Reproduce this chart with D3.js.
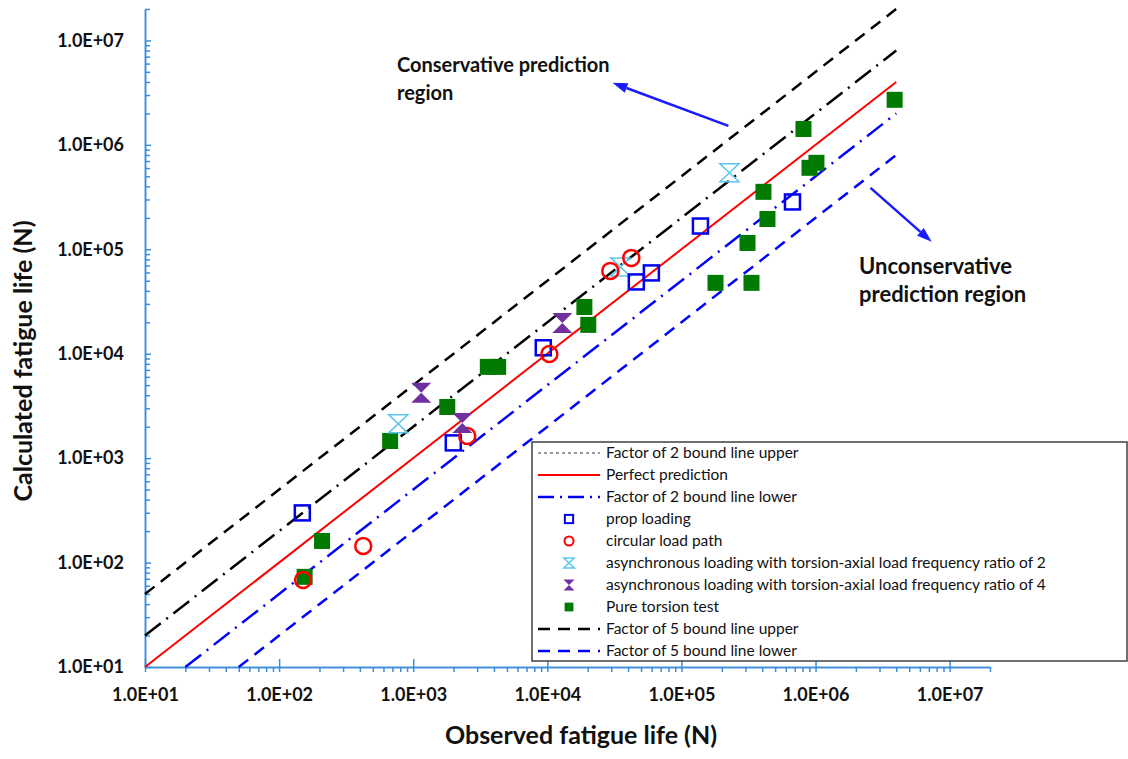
<!DOCTYPE html>
<html>
<head>
<meta charset="utf-8">
<script src="https://cdn.jsdelivr.net/npm/d3@7/dist/d3.min.js"></script>
<style>
  html, body { margin: 0; padding: 0; background: #fff; }
  svg { display: block; font-family: Lato, "Open Sans", sans-serif; }
</style>
</head>
<body>
<svg id="chart" width="1128" height="759"></svg>
<script>
// ---- data ----------------------------------------------------------------
// Pure torsion test [observed, calculated]
const pureTorsion = [
  [155, 73], [209, 161], [673, 1460], [1795, 3090], [3600, 7480], [4300, 7480],
  [18900, 28000], [20200, 18900], [179500, 47700], [333000, 47700],
  [311000, 115000], [438000, 195000], [409000, 355000], [813000, 1420000],
  [902000, 603000], [1016000, 673000], [3890000, 2700000]
];
// prop loading
const propLoading = [
  [149, 299], [1990, 1400], [9330, 11400], [46100, 48700], [59700, 59400],
  [138600, 167000], [673000, 284000]
];
// circular load path
const circularPath = [
  [151, 68], [424, 144], [2530, 1630], [10360, 9950], [29500, 62100], [42300, 82700]
];
// asynchronous loading, frequency ratio 2
const asyncRatio2 = [[773, 2130], [35100, 67800], [228000, 540000]];
// asynchronous loading, frequency ratio 4
const asyncRatio4 = [[1148, 4220], [2323, 2170], [12950, 19700]];

// bound lines: calculated = factor * observed, drawn up to observed = lineEnd
const boundFactors = [5, 2, 1, 0.5, 0.2];
const lineEnd = 4e6;

const majorTicks = [1e1, 1e2, 1e3, 1e4, 1e5, 1e6, 1e7];
const majorTickLabels = ["1.0E+01", "1.0E+02", "1.0E+03", "1.0E+04", "1.0E+05", "1.0E+06", "1.0E+07"];

const legendLabels = [
  "Factor of 2 bound line upper",
  "Perfect prediction",
  "Factor of 2 bound line lower",
  "prop loading",
  "circular load path",
  "asynchronous loading with torsion-axial load frequency ratio of 2",
  "asynchronous loading with torsion-axial load frequency ratio of 4",
  "Pure torsion test",
  "Factor of 5 bound line upper",
  "Factor of 5 bound line lower"
];

// ---- setup ---------------------------------------------------------------
const svg = d3.select("#chart");
const axisColor = "#3a8ddb";
const domainMin = 10, domainMax = 2e7;

const x = d3.scaleLog().domain([domainMin, domainMax]).range([145, 990]);
const y = d3.scaleLog().domain([domainMin, domainMax]).range([667, 9]);

// minor ticks 2..9 in each decade, plus the axis end
const minorTicks = [];
for (let d = 1; d < 7; d++) for (let m = 2; m <= 9; m++) minorTicks.push(m * Math.pow(10, d));
minorTicks.push(2e7);

const fmt = v => majorTickLabels[majorTicks.indexOf(v)];

// ---- axes ----------------------------------------------------------------
const xAxisG = svg.append("g").attr("transform", `translate(0,${y(domainMin)})`);
xAxisG.append("g").call(d3.axisBottom(x).tickValues(minorTicks.concat(majorTicks)).tickSize(5).tickSizeOuter(0).tickFormat(""));
xAxisG.append("g").call(d3.axisBottom(x).tickValues(majorTicks).tickSize(-8).tickSizeOuter(0).tickPadding(21).tickFormat(fmt));

const yAxisG = svg.append("g").attr("transform", `translate(${x(domainMin)},0)`);
yAxisG.append("g").call(d3.axisLeft(y).tickValues(minorTicks).tickSize(-5).tickSizeOuter(0).tickFormat(""));
yAxisG.append("g").call(d3.axisLeft(y).tickValues(majorTicks).tickSize(-6).tickSizeOuter(0).tickPadding(21).tickFormat(fmt));

svg.selectAll(".domain, .tick line").attr("stroke", axisColor).attr("stroke-width", 1.5);
svg.selectAll(".tick text")
  .attr("fill", "#111").attr("font-family", "Lato, sans-serif")
  .attr("font-size", 18).attr("font-weight", "bold");

// axis titles
svg.append("text")
  .attr("x", 581).attr("y", 744).attr("text-anchor", "middle")
  .attr("font-size", 25).attr("font-weight", "bold").attr("fill", "#111")
  .text("Observed fatigue life (N)");
svg.append("text")
  .attr("transform", "translate(32,361) rotate(-90)").attr("text-anchor", "middle")
  .attr("font-size", 25).attr("font-weight", "bold").attr("fill", "#111")
  .text("Calculated fatigue life (N)");

// ---- bound lines -----------------------------------------------------------
const lineStyles = {
  5:   { color: "#000", width: 2.5, dash: "12,8" },
  2:   { color: "#000", width: 2.5, dash: "20,7,2,7" },
  1:   { color: "#ff0000", width: 2, dash: null },
  0.5: { color: "#0000ff", width: 2.5, dash: "20,7,2,7" },
  0.2: { color: "#0000ff", width: 2.5, dash: "12,8" }
};
const lineGen = d3.line().x(d => x(d[0])).y(d => y(d[1]));
boundFactors.forEach(f => {
  const start = Math.max(domainMin, domainMin / f);
  const pts = [[start, start * f], [lineEnd, lineEnd * f]];
  const s = lineStyles[f];
  svg.append("path").datum(pts)
    .attr("d", lineGen).attr("fill", "none")
    .attr("stroke", s.color).attr("stroke-width", s.width)
    .attr("stroke-dasharray", s.dash);
});

// ---- markers -------------------------------------------------------------
const hourglass = (w, h) => `M${-w},${-h}L${w},${-h}L${-w},${h}L${w},${h}Z`;
const colors = { prop: "#0000ee", circ: "#ff0000", a2: "#5cc6ee", a4: "#7030a0", pure: "#007a00" };

function drawSeries(g, data, kind, scale) {
  const sel = g.selectAll(null).data(data).enter();
  const px = d => x(d[0]), py = d => y(d[1]);
  if (kind === "pure") {
    const s = 16 * scale;
    sel.append("rect").attr("x", d => px(d) - s / 2).attr("y", d => py(d) - s / 2)
      .attr("width", s).attr("height", s).attr("fill", colors.pure);
  } else if (kind === "prop") {
    const s = 15 * scale;
    sel.append("rect").attr("x", d => px(d) - s / 2).attr("y", d => py(d) - s / 2)
      .attr("width", s).attr("height", s).attr("fill", "none")
      .attr("stroke", colors.prop).attr("stroke-width", 2.5);
  } else if (kind === "circ") {
    sel.append("circle").attr("cx", px).attr("cy", py).attr("r", 8 * scale)
      .attr("fill", "none").attr("stroke", colors.circ).attr("stroke-width", 2.5);
  } else if (kind === "a2") {
    sel.append("path").attr("transform", d => `translate(${px(d)},${py(d)})`)
      .attr("d", hourglass(9.5 * scale, 9 * scale)).attr("fill", "none")
      .attr("stroke", colors.a2).attr("stroke-width", 1.5);
  } else if (kind === "a4") {
    sel.append("path").attr("transform", d => `translate(${px(d)},${py(d)})`)
      .attr("d", hourglass(10 * scale, 10 * scale)).attr("fill", colors.a4);
  }
}
const marks = svg.append("g");
drawSeries(marks.append("g"), pureTorsion, "pure", 1);
drawSeries(marks.append("g"), asyncRatio2, "a2", 1);
drawSeries(marks.append("g"), propLoading, "prop", 1);
drawSeries(marks.append("g"), circularPath, "circ", 1);
drawSeries(marks.append("g"), asyncRatio4, "a4", 1);

// ---- annotations ---------------------------------------------------------
const arrowColor = "#1a1aff";
function arrow(from, to) {
  const x1 = x(from[0]), y1 = y(from[1]), x2 = x(to[0]), y2 = y(to[1]);
  const ang = Math.atan2(y2 - y1, x2 - x1);
  const len = 15, half = 5;
  const bx = x2 - len * Math.cos(ang), by = y2 - len * Math.sin(ang);
  svg.append("line").attr("x1", x1).attr("y1", y1).attr("x2", bx).attr("y2", by)
    .attr("stroke", arrowColor).attr("stroke-width", 2.5);
  const p = [
    [x2, y2],
    [bx + half * Math.sin(ang), by - half * Math.cos(ang)],
    [bx - half * Math.sin(ang), by + half * Math.cos(ang)]
  ];
  svg.append("path").attr("d", "M" + p.join("L") + "Z").attr("fill", arrowColor);
}
arrow([224000, 1.52e6], [30600, 3.93e6]);
arrow([2.57e6, 387000], [7.35e6, 118000]);

const note = svg.append("g").attr("font-weight", "bold").attr("fill", "#111");
note.append("text").attr("x", 397).attr("y", 72).attr("font-size", 20).text("Conservative prediction");
note.append("text").attr("x", 397).attr("y", 100).attr("font-size", 20).text("region");
note.append("text").attr("x", 859).attr("y", 274).attr("font-size", 22).text("Unconservative");
note.append("text").attr("x", 859).attr("y", 302).attr("font-size", 22).text("prediction region");

// ---- legend --------------------------------------------------------------
const lg = svg.append("g");
lg.append("rect").attr("x", 532).attr("y", 442).attr("width", 595).attr("height", 219)
  .attr("fill", "#fff").attr("stroke", "#404040").attr("stroke-width", 1.5);

const legendKinds = ["l2u", "l1", "l2l", "prop", "circ", "a2", "a4", "pure", "l5u", "l5l"];
const legendLineStyles = {
  l2u: { color: "#333", width: 1, dash: "3,3" },
  l1:  { color: "#ff0000", width: 2, dash: null },
  l2l: { color: "#0000ff", width: 2.5, dash: "16,6,2,6" },
  l5u: { color: "#000", width: 2.5, dash: "12,8" },
  l5l: { color: "#0000ff", width: 2.5, dash: "12,8" }
};
const rowY = i => 453 + i * 22;
legendKinds.forEach((k, i) => {
  const cy = rowY(i);
  const ls = legendLineStyles[k];
  if (ls) {
    lg.append("line").attr("x1", 538).attr("x2", 600).attr("y1", cy).attr("y2", cy)
      .attr("stroke", ls.color).attr("stroke-width", ls.width).attr("stroke-dasharray", ls.dash);
  } else {
    const g = lg.append("g");
    const fake = [[x.invert(569), y.invert(cy)]];
    drawSeries(g, fake, k, 0.55);
    if (k === "circ") g.selectAll("circle").attr("r", 4.5).attr("stroke-width", 2);
    if (k === "prop") g.selectAll("rect").attr("stroke-width", 2);
  }
  lg.append("text").attr("x", 606).attr("y", cy).attr("dy", "0.35em")
    .attr("font-size", 15.5).attr("fill", "#111").text(legendLabels[i]);
});
</script>
</body>
</html>
